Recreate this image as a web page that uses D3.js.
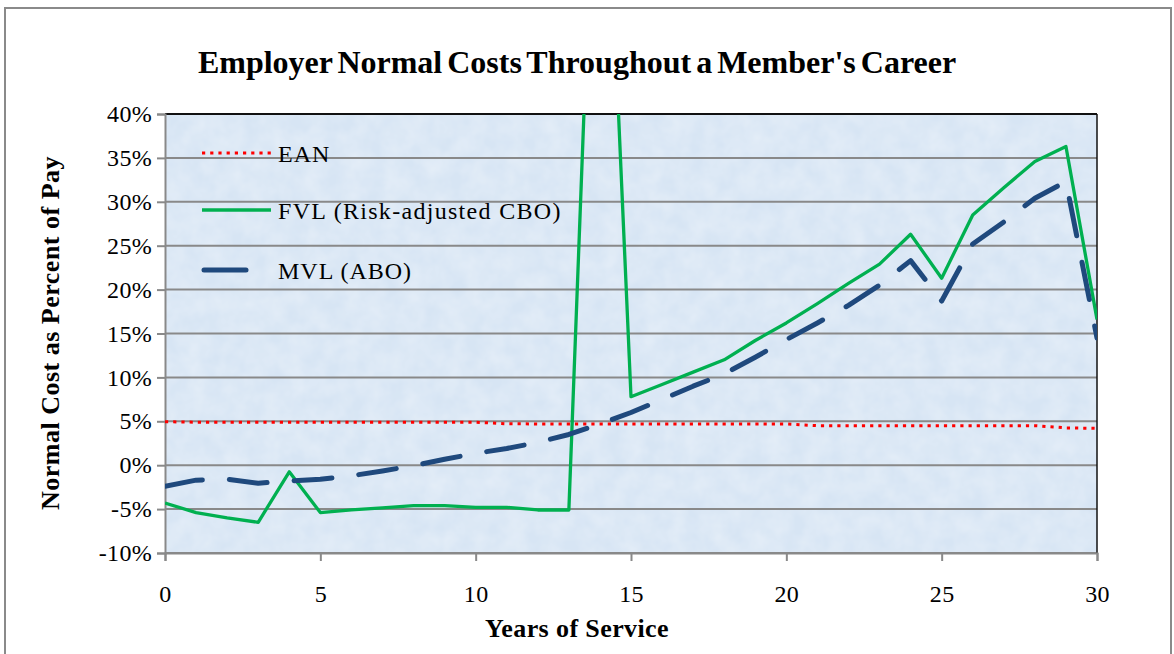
<!DOCTYPE html>
<html>
<head>
<meta charset="utf-8">
<script src="https://cdn.jsdelivr.net/npm/d3@7"></script>
<style>
    body { margin: 0; background: #ffffff; }
    svg { display: block; }
    text { font-family: "Liberation Serif", "Times New Roman", serif; fill: #000; }
</style>
</head>
<body>
<div id="grafico"></div>
<script>
// Datos (porcentaje del salario)
const anios = [0, 1, 2, 3, 4, 5, 6, 7, 8, 9, 10, 11, 12, 13, 14, 15,
    16, 17, 18, 19, 20, 21, 22, 23, 24, 25, 26, 27, 28, 29, 30];

const ean = [4.95, 4.9, 4.9, 4.9, 4.9, 4.9, 4.9, 4.9, 4.9, 4.9, 4.9,
    4.72, 4.7, 4.7, 4.7, 4.7, 4.7, 4.7, 4.7, 4.7, 4.7,
    4.5, 4.5, 4.5, 4.5, 4.5, 4.5, 4.5, 4.5, 4.25, 4.2];

const fvl = [-4.3, -5.4, -6.0, -6.5, -0.75, -5.4, -5.1, -4.85, -4.6, -4.6, -4.8,
    -4.8, -5.1, -5.1, 88, 7.8, 9.2, 10.6, 12.0, 14.2, 16.2,
    18.4, 20.7, 22.9, 26.3, 21.3, 28.5, 31.6, 34.6, 36.3, 16.6];

const mvl = [-2.4, -1.7, -1.6, -2.05, -1.8, -1.6, -1.2, -0.66, -0.05, 0.67, 1.35,
    1.9, 2.6, 3.5, 4.7, 6.0, 7.5, 9.0, 10.4, 12.3, 14.3,
    16.2, 18.2, 20.5, 23.3, 18.7, 25.2, 27.7, 30.4, 32.3, 14.5];

const ticksY = [-10, -5, 0, 5, 10, 15, 20, 25, 30, 35, 40];
const ticksX = [0, 5, 10, 15, 20, 25, 30];

const series = [
    {nombre: "EAN", valores: ean, color: "#ff0000", ancho: 3, dash: "3.2,5", cap: "butt", espacio: 1},
    {nombre: "FVL (Risk-adjusted CBO)", valores: fvl, color: "#00b050", ancho: 3.3, dash: null, cap: "butt", espacio: 1.3},
    {nombre: "MVL (ABO)", valores: mvl, color: "#1f497d", ancho: 5, dash: "38,27", cap: "round", espacio: 1}
];

let margin = {top: 114, right: 77, bottom: 101, left: 165},
    width = 1174 - margin.left - margin.right,
    height = 654 - margin.top - margin.bottom;

let svg = d3.select("#grafico")
    .append("svg")
    .attr("width", 1174)
    .attr("height", 654);

// Marco exterior del gráfico
svg.append("rect")
    .attr("x", 5)
    .attr("y", 8)
    .attr("width", 1166)
    .attr("height", 660)
    .attr("fill", "none")
    .attr("stroke", "#8a8a8a")
    .attr("stroke-width", 2);

let defs = svg.append("defs");
defs.append("clipPath")
    .attr("id", "recorte")
    .append("rect")
    .attr("width", width)
    .attr("height", height);

// textura suave del fondo
let filtro = defs.append("filter").attr("id", "textura")
    .attr("x", 0).attr("y", 0).attr("width", 1).attr("height", 1);
filtro.append("feTurbulence")
    .attr("type", "fractalNoise")
    .attr("baseFrequency", 0.05)
    .attr("numOctaves", 3)
    .attr("seed", 4);
filtro.append("feColorMatrix")
    .attr("type", "matrix")
    .attr("values", "0 0 0 0 1  0 0 0 0 1  0 0 0 0 1  0 0 0 0.45 -0.1");

let g = svg.append("g")
    .attr("transform", "translate(" + margin.left + "," + margin.top + ")");

let x = d3.scaleLinear()
    .domain([0, 30])
    .range([0, width]);

let y = d3.scaleLinear()
    .domain([-10, 40])
    .range([height, 0]);

g.append("rect")
    .attr("width", width)
    .attr("height", height)
    .attr("fill", "#d7e5f4");
g.append("rect")
    .attr("width", width)
    .attr("height", height)
    .attr("filter", "url(#textura)");

// Líneas de cuadrícula
g.append("g")
    .selectAll("line")
    .data(ticksY)
    .enter()
    .append("line")
    .attr("x1", 0)
    .attr("x2", width)
    .attr("y1", d => y(d))
    .attr("y2", d => y(d))
    .attr("stroke", "#898989")
    .attr("stroke-width", 2);

// Borde superior y derecho del área de trazado
g.append("line")
    .attr("x1", 0).attr("x2", width)
    .attr("y1", 0).attr("y2", 0)
    .attr("stroke", "#111").attr("stroke-width", 2);
g.append("line")
    .attr("x1", width).attr("x2", width)
    .attr("y1", 0).attr("y2", height)
    .attr("stroke", "#111").attr("stroke-width", 1.5);

// Ejes
let ejeX = g.append("g")
    .attr("transform", "translate(0," + height + ")")
    .call(d3.axisBottom(x).tickValues(ticksX).tickSize(8).tickPadding(24));
let ejeY = g.append("g")
    .call(d3.axisLeft(y).tickValues(ticksY).tickSize(8).tickPadding(5)
        .tickFormat(d => d + "%"));

[ejeX, ejeY].forEach(function (eje) {
    eje.select(".domain").attr("stroke", "#898989").attr("stroke-width", 2);
    eje.selectAll(".tick line").attr("stroke", "#898989").attr("stroke-width", 2);
    eje.selectAll(".tick text")
        .style("font-family", "'Liberation Serif', 'Times New Roman', serif")
        .style("font-size", "24px")
        .style("letter-spacing", "0.3px")
        .attr("fill", "#000");
});

// Series
let linea = d3.line()
    .x((d, i) => x(anios[i]))
    .y(d => y(d));

let trazos = g.append("g").attr("clip-path", "url(#recorte)");
series.forEach(function (s) {
    trazos.append("path")
        .datum(s.valores)
        .attr("d", linea)
        .attr("fill", "none")
        .attr("stroke", s.color)
        .attr("stroke-width", s.ancho)
        .attr("stroke-dasharray", s.dash)
        .attr("stroke-linecap", s.cap)
        .attr("stroke-linejoin", "round");
});

// Leyenda
let leyenda = g.append("g").attr("transform", "translate(37,39)");
let posLeyenda = [0, 57, 117];
series.forEach(function (s, i) {
    let fila = leyenda.append("g").attr("transform", "translate(0," + posLeyenda[i] + ")");
    if (s.nombre === "MVL (ABO)") {
        fila.append("line")
            .attr("x1", 2).attr("x2", 44)
            .attr("stroke", s.color)
            .attr("stroke-width", s.ancho)
            .attr("stroke-linecap", "round");
    } else {
        fila.append("line")
            .attr("x1", 0).attr("x2", 69)
            .attr("stroke", s.color)
            .attr("stroke-width", s.ancho)
            .attr("stroke-dasharray", s.dash);
    }
    fila.append("text")
        .attr("x", 76)
        .attr("y", 9)
        .style("font-size", "24px")
        .style("letter-spacing", s.espacio + "px")
        .text(s.nombre);
});

// Títulos
svg.append("text")
    .attr("x", 577)
    .attr("y", 73)
    .attr("text-anchor", "middle")
    .style("font-size", "32px")
    .style("font-weight", "bold")
    .style("word-spacing", "-3px")
    .text("Employer Normal Costs Throughout a Member's Career");

svg.append("text")
    .attr("x", 577)
    .attr("y", 637)
    .attr("text-anchor", "middle")
    .style("font-size", "26px")
    .style("font-weight", "bold")
    .style("letter-spacing", "0.4px")
    .text("Years of Service");

svg.append("text")
    .attr("transform", "translate(59,333) rotate(-90)")
    .attr("text-anchor", "middle")
    .style("font-size", "26px")
    .style("font-weight", "bold")
    .style("letter-spacing", "0.5px")
    .text("Normal Cost as Percent of Pay");
</script>
</body>
</html>
